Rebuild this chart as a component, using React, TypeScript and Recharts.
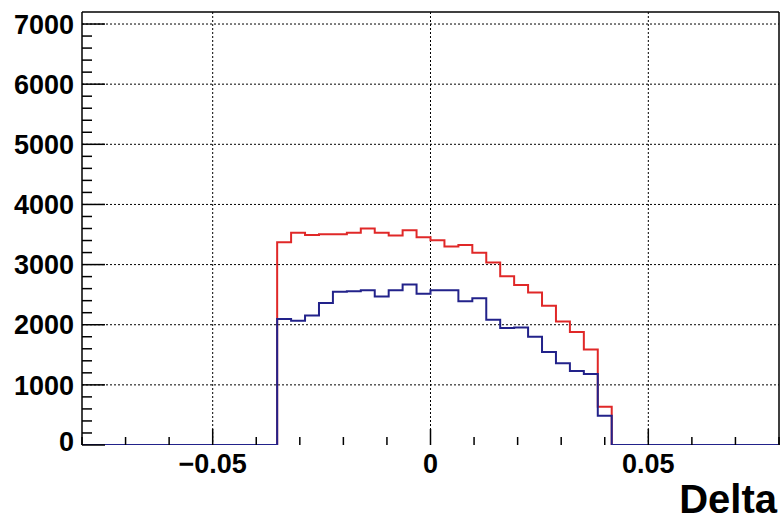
import { LineChart, Line, XAxis, YAxis, CartesianGrid } from "recharts";

// histogram binning: 50 bins from -0.08 to 0.08
const binLow = -0.08;
const binWidth = 0.0032;

const redCounts = [
  0, 0, 0, 0, 0, 0, 0, 0, 0, 0, 0, 0, 0, 0,
  3370, 3530, 3490, 3505, 3505, 3530, 3600, 3530, 3485, 3570, 3455, 3405,
  3300, 3325, 3195, 3035, 2805, 2660, 2535, 2315, 2055, 1880, 1590, 635,
  0, 0, 0, 0, 0, 0, 0, 0, 0, 0, 0, 0,
];

const blueCounts = [
  0, 0, 0, 0, 0, 0, 0, 0, 0, 0, 0, 0, 0, 0,
  2095, 2065, 2155, 2360, 2550, 2555, 2572, 2470, 2572, 2670, 2515, 2572,
  2572, 2390, 2440, 2083, 1944, 1953, 1798, 1548, 1361, 1230, 1180, 486,
  0, 0, 0, 0, 0, 0, 0, 0, 0, 0, 0, 0,
];

const yMajor = [0, 1000, 2000, 3000, 4000, 5000, 6000, 7000];
const yTicks = Array.from({ length: 36 }, (_, i) => i * 200);
const xMajor = [-0.05, 0, 0.05];
const xTicks = Array.from({ length: 17 }, (_, i) => Math.round((-0.08 + i * 0.01) * 100) / 100);

const FONT = "'Liberation Sans', Arial, Helvetica, sans-serif";

// one point per bin edge, drawn as stepAfter
const data = Array.from({ length: redCounts.length + 1 }, (_, i) => {
  const k = Math.min(i, redCounts.length - 1);
  return { x: binLow + i * binWidth, red: redCounts[k], blue: blueCounts[k] };
});

const fmtX = (v: number) => {
  if (Math.abs(v) < 1e-9) return "0";
  return (v < 0 ? "\u2212" : "") + Math.abs(v).toFixed(2);
};

const YTick = (props: any) => {
  const { x, y, payload } = props;
  const v = payload.value;
  const major = v % 1000 === 0;
  return (
    <g>
      <line x1={x} x2={x + (major ? 23 : 10)} y1={y} y2={y} stroke="#000" strokeWidth={1.5} />
      {major && (
        <text
          x={x - 8}
          y={v === 0 ? y - 4 : y}
          dy="0.36em"
          textAnchor="end"
          fontFamily={FONT}
          fontWeight="bold"
          fontSize={27}
          fill="#000"
        >
          {v}
        </text>
      )}
    </g>
  );
};

const XTick = (props: any) => {
  const { x, y, payload } = props;
  const v = payload.value;
  const major = Math.round(v * 100) % 5 === 0;
  return (
    <g>
      <line x1={x} x2={x} y1={y} y2={y - (major ? 16 : 8)} stroke="#000" strokeWidth={1.5} />
      {major && (
        <text
          x={x}
          y={y + 28}
          textAnchor="middle"
          fontFamily={FONT}
          fontWeight="bold"
          fontSize={27}
          fill="#000"
        >
          {fmtX(v)}
        </text>
      )}
    </g>
  );
};

const AxisTitle = (props: any) => {
  const vb = props.viewBox;
  return (
    <text
      x={vb.x + vb.width - 2}
      y={vb.y + 68}
      textAnchor="end"
      fontFamily={FONT}
      fontWeight="bold"
      fontSize={40}
      fill="#000"
    >
      Delta
    </text>
  );
};

export default function App() {
  return (
    <div style={{ position: "absolute", left: 0, top: 0, width: 781, height: 521, background: "#fff" }}>
      <LineChart width={781} height={521} data={data} margin={{ top: 12, right: 2, bottom: 46, left: 10 }}>
        <CartesianGrid
          stroke="#000"
          strokeDasharray="2 2"
          horizontalValues={yMajor.slice(1)}
          verticalValues={xMajor}
        />
        {/* solid frame on top and right */}
        <CartesianGrid
          stroke="#000"
          strokeWidth={1.5}
          horizontalValues={[7200]}
          verticalValues={[0.08]}
        />
        <XAxis
          dataKey="x"
          type="number"
          domain={[-0.08, 0.08]}
          allowDataOverflow
          ticks={xTicks}
          interval={0}
          height={30}
          tickSize={0}
          tickMargin={0}
          tickLine={false}
          tick={<XTick />}
          axisLine={false}
          label={<AxisTitle />}
        />
        <YAxis
          type="number"
          domain={[0, 7200]}
          allowDataOverflow
          ticks={yTicks}
          interval={0}
          width={72}
          tickSize={0}
          tickMargin={0}
          tickLine={false}
          tick={<YTick />}
          axisLine={{ stroke: "#000", strokeWidth: 1.5 }}
        />
        <Line
          type="stepAfter"
          dataKey="red"
          stroke="#e02828"
          strokeWidth={2}
          dot={false}
          activeDot={false}
          isAnimationActive={false}
        />
        <Line
          type="stepAfter"
          dataKey="blue"
          stroke="#22228a"
          strokeWidth={2}
          dot={false}
          activeDot={false}
          isAnimationActive={false}
        />
      </LineChart>
    </div>
  );
}
